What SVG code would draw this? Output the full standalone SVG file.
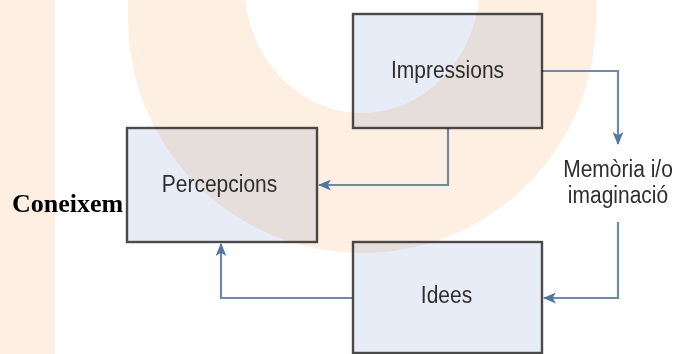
<svg xmlns="http://www.w3.org/2000/svg" width="673" height="354" viewBox="0 0 673 354">
  <style>
    .box { fill: #e8ecf6; stroke: #4a4a4a; stroke-width: 2.4; mix-blend-mode: multiply; }
    .lbl { font-family: "Liberation Sans", Arial, sans-serif; font-size: 21px; fill: #2e2e2e; text-anchor: middle; }
    .wm { fill: #fdf0e3; }
    .conn { fill: none; stroke: #7189a6; stroke-width: 2.2; }
  </style>
  <defs>
    <marker id="arr" viewBox="0 0 12 10" refX="11" refY="5" markerWidth="13" markerHeight="11" markerUnits="userSpaceOnUse" orient="auto">
      <path d="M0,0 L12,5 L0,10 L3,5 Z" fill="#4f77a3"/>
    </marker>
  </defs>
  <rect width="673" height="354" fill="#ffffff"/>
  <g id="watermark">
    <rect class="wm" x="0" y="0" width="55" height="354"/>
    <path class="wm" fill-rule="evenodd" d="M128,0 L128,19 A234,234 0 0 0 596,19 L596,0 Z M245,0 A118,130 0 0 0 479,0 Z"/>
  </g>
  <g id="connectors">
    <path class="conn" d="M542,71 L618,71 L618,144" marker-end="url(#arr)"/>
    <path class="conn" d="M448,128 L448,185 L319,185" marker-end="url(#arr)"/>
    <path class="conn" d="M618,222 L618,298 L544,298" marker-end="url(#arr)"/>
    <path class="conn" d="M352,298 L221,298 L221,244" marker-end="url(#arr)"/>
  </g>
  <g id="impressions">
    <rect class="box" x="353" y="14" width="189" height="114"/>
    <text class="lbl" transform="translate(447.5,78) scale(1,1.13)">Impressions</text>
  </g>
  <g id="percepcions">
    <rect class="box" x="127" y="128" width="190" height="114"/>
    <text class="lbl" transform="translate(219.5,192) scale(1,1.13)">Percepcions</text>
  </g>
  <g id="idees">
    <rect class="box" x="353" y="242" width="189" height="111"/>
    <text class="lbl" transform="translate(446.5,303) scale(1,1.13)">Idees</text>
  </g>
  <g id="memoria">
    <text class="lbl" transform="translate(618,177) scale(1,1.1)">Memòria i/o</text>
    <text class="lbl" transform="translate(618,203) scale(1,1.1)">imaginació</text>
  </g>
  <g id="coneixem">
    <text x="12" y="212" font-family="'Liberation Serif', 'Times New Roman', serif" font-weight="bold" font-size="26" fill="#000000">Coneixem</text>
  </g>
</svg>
